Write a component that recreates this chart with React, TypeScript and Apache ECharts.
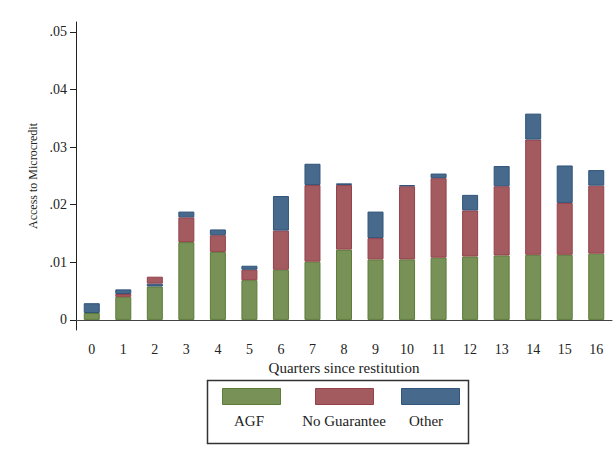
import React, { useEffect, useRef } from "react";
import * as echarts from "echarts";

const quarters = ["0","1","2","3","4","5","6","7","8","9","10","11","12","13","14","15","16"];
const agf = [0.0012,0.0040,0.0058,0.0135,0.0118,0.0069,0.0087,0.0101,0.0122,0.0105,0.0105,0.0108,0.0110,0.0112,0.0113,0.0113,0.0115];
const noGuarantee = [0,0.0005,0.0012,0.0043,0.0029,0.0018,0.0068,0.0133,0.0112,0.0037,0.0127,0.0138,0.0080,0.0120,0.0200,0.0090,0.0118];
const other = [0.0017,0.0008,0.0005,0.0010,0.0010,0.0007,0.0060,0.0037,0.0003,0.0046,0.0002,0.0008,0.0027,0.0035,0.0045,0.0065,0.0027];
// quarters where the "Other" segment sits below "No Guarantee"
const otherBelowQuarters = [2];
const yTicks = [0, 0.01, 0.02, 0.03, 0.04, 0.05];

const GREEN = "#779157";
const RED = "#a35b60";
const BLUE = "#46698c";
const GREEN_B = "#5d7b39";
const RED_B = "#94414b";
const BLUE_B = "#30547a";
const FONT = "Liberation Serif";

export default function App() {
  const ref = useRef<HTMLDivElement>(null);
  useEffect(() => {
    if (!ref.current) return;
    const chart = echarts.init(ref.current, null, { renderer: "svg" });
    const nz = (v: number) => (v > 0 ? v : "-");
    const otherLow = other.map((v, i) => (otherBelowQuarters.includes(i) ? nz(v) : "-"));
    const otherHigh = other.map((v, i) => (otherBelowQuarters.includes(i) ? "-" : nz(v)));
    const barCommon = { type: "bar", stack: "q", barWidth: 16 };
    const legendItems = [
      { name: "AGF", color: GREEN, border: GREEN_B, x: 222, cx: 249 },
      { name: "No Guarantee", color: RED, border: RED_B, x: 315, cx: 344 },
      { name: "Other", color: BLUE, border: BLUE_B, x: 401, cx: 426 },
    ];
    const graphic: any[] = [
      {
        type: "rect",
        shape: { x: 207.5, y: 380.5, width: 261, height: 63 },
        style: { fill: "#fff", stroke: "#333", lineWidth: 1.5 },
      },
    ];
    legendItems.forEach((it) => {
      graphic.push({
        type: "rect",
        shape: { x: it.x + 0.5, y: 388.5, width: 58, height: 16 },
        style: { fill: it.color, stroke: it.border, lineWidth: 1 },
      });
      graphic.push({
        type: "text",
        x: it.cx,
        y: 421,
        style: {
          text: it.name,
          fill: "#222",
          font: `15px "${FONT}"`,
          textAlign: "center",
          textVerticalAlign: "middle",
        },
      });
    });
    chart.setOption({
      animation: false,
      backgroundColor: "#fff",
      grid: { left: 76, right: 4, top: 22, bottom: 123 },
      xAxis: {
        type: "category",
        data: quarters,
        name: "Quarters since restitution",
        nameLocation: "middle",
        nameGap: 24,
        nameTextStyle: { fontFamily: FONT, fontSize: 15, color: "#222" },
        axisLine: { lineStyle: { color: "#444", width: 1 } },
        axisTick: { alignWithLabel: true, length: 6, lineStyle: { color: "#444" } },
        axisLabel: { fontFamily: FONT, fontSize: 14, color: "#222", margin: 12, interval: 0 },
      },
      yAxis: {
        type: "value",
        min: -0.00175,
        max: 0.0517,
        name: "Access to Microcredit",
        nameLocation: "middle",
        nameGap: 35,
        nameTextStyle: { fontFamily: FONT, fontSize: 12, color: "#222" },
        axisLine: { show: true, lineStyle: { color: "#222", width: 1 } },
        axisTick: { show: true, length: 6, customValues: yTicks, lineStyle: { color: "#222" } },
        axisLabel: {
          fontFamily: FONT,
          fontSize: 14,
          color: "#222",
          margin: 9,
          customValues: yTicks,
          formatter: (v: number) => (v === 0 ? "0" : "." + String(Math.round(v * 100)).padStart(2, "0")),
        },
        splitLine: { show: false },
      },
      series: [
        { ...barCommon, name: "AGF", data: agf.map(nz), itemStyle: { color: GREEN, borderColor: GREEN_B, borderWidth: 1 } },
        { ...barCommon, name: "Other", data: otherLow, itemStyle: { color: BLUE, borderColor: BLUE_B, borderWidth: 1 } },
        { ...barCommon, name: "No Guarantee", data: noGuarantee.map(nz), itemStyle: { color: RED, borderColor: RED_B, borderWidth: 1 } },
        { ...barCommon, name: "Other", data: otherHigh, itemStyle: { color: BLUE, borderColor: BLUE_B, borderWidth: 1 } },
      ],
      graphic,
    });
    return () => chart.dispose();
  }, []);
  return <div ref={ref} style={{ position: "fixed", left: 0, top: 0, width: 616, height: 453 }} />;
}
